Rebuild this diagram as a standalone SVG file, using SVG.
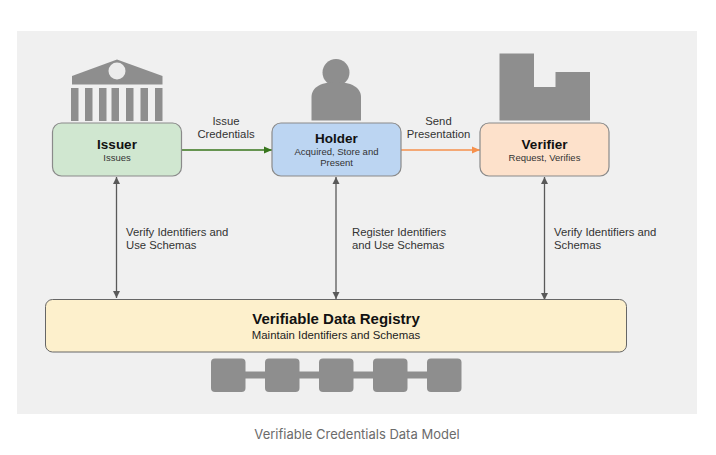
<svg xmlns="http://www.w3.org/2000/svg" width="716" height="455" viewBox="0 0 716 455">
<style>
text{font-family:"Liberation Sans",Arial,sans-serif;text-anchor:middle;fill:#222}
.t{font-size:13.500px;font-weight:700;fill:#111}
.s{font-size:9.500px;fill:#333}
.l{font-size:11.300px;fill:#333}
.g{fill:#8e8e8e}
.n{stroke:#8a8a8a;stroke-width:1.2}
.c{fill:none;stroke:#595959;stroke-width:1.3}
</style>
<defs>
<marker id="a" markerUnits="userSpaceOnUse" markerWidth="8" markerHeight="8" refX="7" refY="4" orient="auto-start-reverse"><path d="M0 .5L7 4L0 7.500z" fill="#595959"/></marker>
<marker id="ag" markerUnits="userSpaceOnUse" markerWidth="9" markerHeight="8" refX="8" refY="4" orient="auto"><path d="M0 .5L8 4L0 7.500z" fill="#38761d"/></marker>
<marker id="ao" markerUnits="userSpaceOnUse" markerWidth="9" markerHeight="8" refX="8" refY="4" orient="auto"><path d="M0 .5L8 4L0 7.500z" fill="#f6914d"/></marker>
</defs>
<rect width="716" height="455" fill="#fff"/>
<rect x="17" y="31" width="680" height="383" fill="#f0f0f0"/>
<g id="connectors">
<path d="M182 150H272" stroke="#38761d" stroke-width="1.600" fill="none" marker-end="url(#ag)"/>
<path d="M401 150H480" stroke="#f6914d" stroke-width="1.600" fill="none" marker-end="url(#ao)"/>
<path class="c" d="M116.500 177V298" marker-start="url(#a)" marker-end="url(#a)"/>
<path class="c" d="M336 177V299" marker-start="url(#a)" marker-end="url(#a)"/>
<path class="c" d="M544.500 177V300" marker-start="url(#a)" marker-end="url(#a)"/>
<text class="l" x="226" y="125">Issue</text>
<text class="l" x="226" y="138">Credentials</text>
<text class="l" x="438.500" y="125">Send</text>
<text class="l" x="438.500" y="138">Presentation</text>
<text class="l" x="126" y="236" style="text-anchor:start">Verify Identifiers and</text>
<text class="l" x="126" y="249" style="text-anchor:start">Use Schemas</text>
<text class="l" x="352" y="236" style="text-anchor:start">Register Identifiers</text>
<text class="l" x="352" y="249" style="text-anchor:start">and Use Schemas</text>
<text class="l" x="554" y="236" style="text-anchor:start">Verify Identifiers and</text>
<text class="l" x="554" y="249" style="text-anchor:start">Schemas</text>
</g>
<g id="issuer-icon">
<path class="g" d="M72 76L117 59.500L162.500 76V84.500H72z"/>
<circle cx="117" cy="71" r="8.500" fill="#ececec"/>
<rect class="g" x="71" y="88" width="7.500" height="33"/><rect class="g" x="85" y="88" width="7.500" height="33"/><rect class="g" x="99" y="88" width="7.500" height="33"/><rect class="g" x="111.500" y="88" width="7.500" height="33"/><rect class="g" x="126" y="88" width="7.500" height="33"/><rect class="g" x="140.500" y="88" width="7.500" height="33"/><rect class="g" x="155" y="88" width="7.500" height="33"/>
</g>
<g id="issuer">
<rect class="n" x="52.500" y="123" width="129" height="53" rx="9" fill="#d0e7d0"/>
<text class="t" x="117" y="149">Issuer</text>
<text class="s" x="117" y="161">Issues</text>
</g>
<g id="holder-icon">
<circle class="g" cx="336" cy="72.500" r="13.500"/>
<path class="g" d="M311.500 120.500V97C311.500 87 322 82 336 82S361 87 361 97V120.500z"/>
</g>
<g id="holder">
<rect class="n" x="272" y="123" width="129" height="53" rx="9" fill="#bcd5f2"/>
<text class="t" x="336.500" y="143">Holder</text>
<text class="s" x="336.500" y="155">Acquired, Store and</text>
<text class="s" x="336.500" y="166">Present</text>
</g>
<g id="verifier-icon">
<path class="g" d="M499.500 53.500H534V87H555.500V72H590V120.500H499.500z"/>
</g>
<g id="verifier">
<rect class="n" x="480" y="123" width="129" height="53" rx="9" fill="#fde1cb"/>
<text class="t" x="544.500" y="149">Verifier</text>
<text class="s" x="544.500" y="161">Request, Verifies</text>
</g>
<g id="registry">
<rect x="45.500" y="299.500" width="581" height="52.500" rx="7" fill="#fdf0cc" stroke="#666" stroke-width="1"/>
<text x="336" y="324" style="font-size:15px;font-weight:700;fill:#111">Verifiable Data Registry</text>
<text x="336" y="339" style="font-size:11.400px;fill:#222">Maintain Identifiers and Schemas</text>
</g>
<g id="chain">
<rect class="g" x="240" y="371.500" width="200" height="7"/>
<rect class="g" x="211" y="358.500" width="34.500" height="33.500" rx="4"/>
<rect class="g" x="265" y="358.500" width="34.500" height="33.500" rx="4"/>
<rect class="g" x="319" y="358.500" width="34.500" height="33.500" rx="4"/>
<rect class="g" x="373" y="358.500" width="34.500" height="33.500" rx="4"/>
<rect class="g" x="427" y="358.500" width="34.500" height="33.500" rx="4"/>
</g>
<text x="357" y="439" style="font-family:Inter,'Liberation Sans',sans-serif;font-size:13px;fill:#6b6b6b">Verifiable Credentials Data Model</text>
</svg>
